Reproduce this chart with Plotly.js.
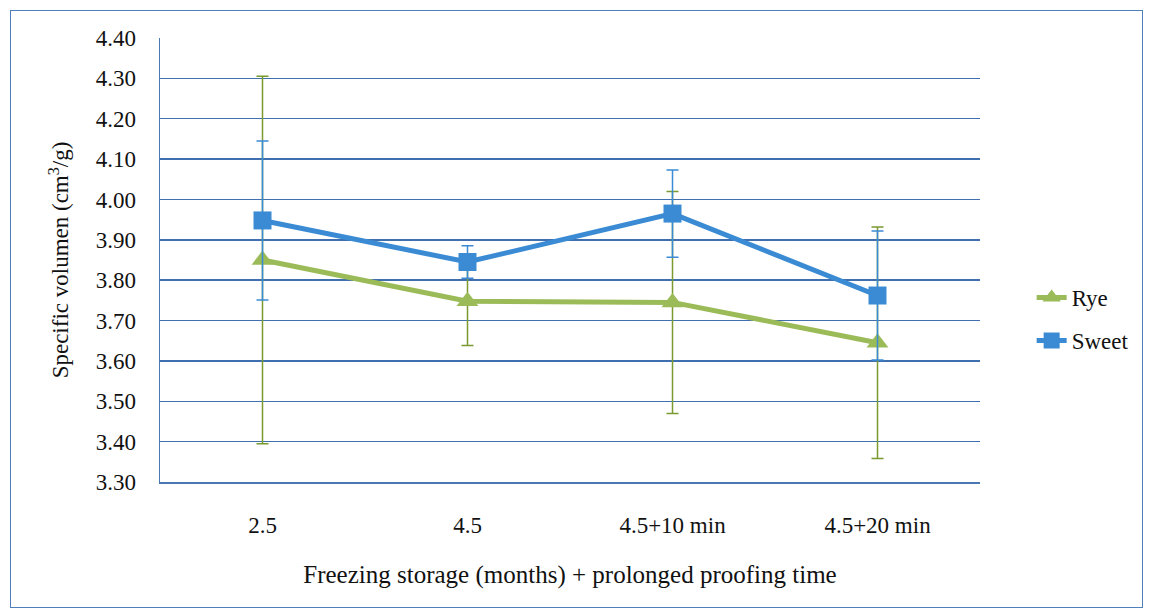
<!DOCTYPE html>
<html><head><meta charset="utf-8">
<script src="https://cdn.plot.ly/plotly-3.0.1.min.js"></script>
<style>
html,body{margin:0;padding:0;background:#fff;}
#frame{position:absolute;left:10px;top:10px;width:1133px;height:598px;border:1.5px solid #4f7fb8;box-sizing:border-box;}
#chart{position:absolute;left:0;top:0;width:1153px;height:615px;}
</style></head>
<body>
<div id="frame"></div>
<div id="chart"></div>
<script>
var categories = ["2.5", "4.5", "4.5+10 min", "4.5+20 min"];
var ryeValues = [3.85, 3.748, 3.745, 3.645];
var ryeErrors = [0.455, 0.11, 0.275, 0.287];
var sweetValues = [3.948, 3.845, 3.965, 3.762];
var sweetErrors = [0.197, 0.04, 0.108, 0.16];
var yTicks = [3.3, 3.4, 3.5, 3.6, 3.7, 3.8, 3.9, 4.0, 4.1, 4.2, 4.3, 4.4];

var green = '#9bbb59', blue = '#3a8bd4';
var ff = '"Liberation Serif", "Times New Roman", serif';
var traces = [
  {x: categories, y: ryeValues, name: 'Rye', type: 'scatter', mode: 'lines+markers', legendgroup: 'a',
   line: {color: green, width: 5}, marker: {symbol: 'triangle-up', size: 19, color: green},
   error_y: {type: 'data', array: ryeErrors, visible: true, color: '#7a9a30', thickness: 1.5, width: 6}},
  {x: categories, y: sweetValues, name: 'Sweet', type: 'scatter', mode: 'lines+markers', legendgroup: 'b',
   line: {color: blue, width: 5}, marker: {symbol: 'square', size: 18, color: blue},
   error_y: {type: 'data', array: sweetErrors, visible: true, color: blue, thickness: 1.5, width: 6}}
];
var layout = {
  width: 1153, height: 615,
  margin: {l: 160, r: 173, t: 38, b: 133},
  paper_bgcolor: 'rgba(0,0,0,0)', plot_bgcolor: 'rgba(0,0,0,0)',
  font: {family: ff, color: '#111'},
  showlegend: true,
  legend: {x: 1.063, y: 0.367, xanchor: 'left', yanchor: 'middle', font: {family: ff, size: 23, color: '#111'}, traceorder: 'grouped', tracegroupgap: 10},
  xaxis: {type: 'category', range: [-0.5, 3.5], showgrid: false, showline: true, linecolor: '#4a78b0', linewidth: 1.5,
          ticks: '', ticklabelstandoff: 22, tickfont: {family: ff, size: 23, color: '#111'},
          title: {text: 'Freezing storage (months) + prolonged proofing time', font: {family: ff, size: 25, color: '#111'}, standoff: 28}},
  yaxis: {range: [3.3, 4.4], tickvals: yTicks, ticktext: yTicks.map(function(v){return v.toFixed(2);}),
          showgrid: true, gridcolor: '#3f6fae', gridwidth: 1.5, showline: true, linecolor: '#4a78b0', linewidth: 1.5,
          zeroline: false, ticks: '', ticklabelstandoff: 18, tickfont: {family: ff, size: 23, color: '#111'},
          title: {text: 'Specific volumen (cm<sup>3</sup>/g)', font: {family: ff, size: 23, color: '#111'}, standoff: 20}}
};
Plotly.newPlot('chart', traces, layout, {displayModeBar: false, staticPlot: true});
</script>
</body></html>
